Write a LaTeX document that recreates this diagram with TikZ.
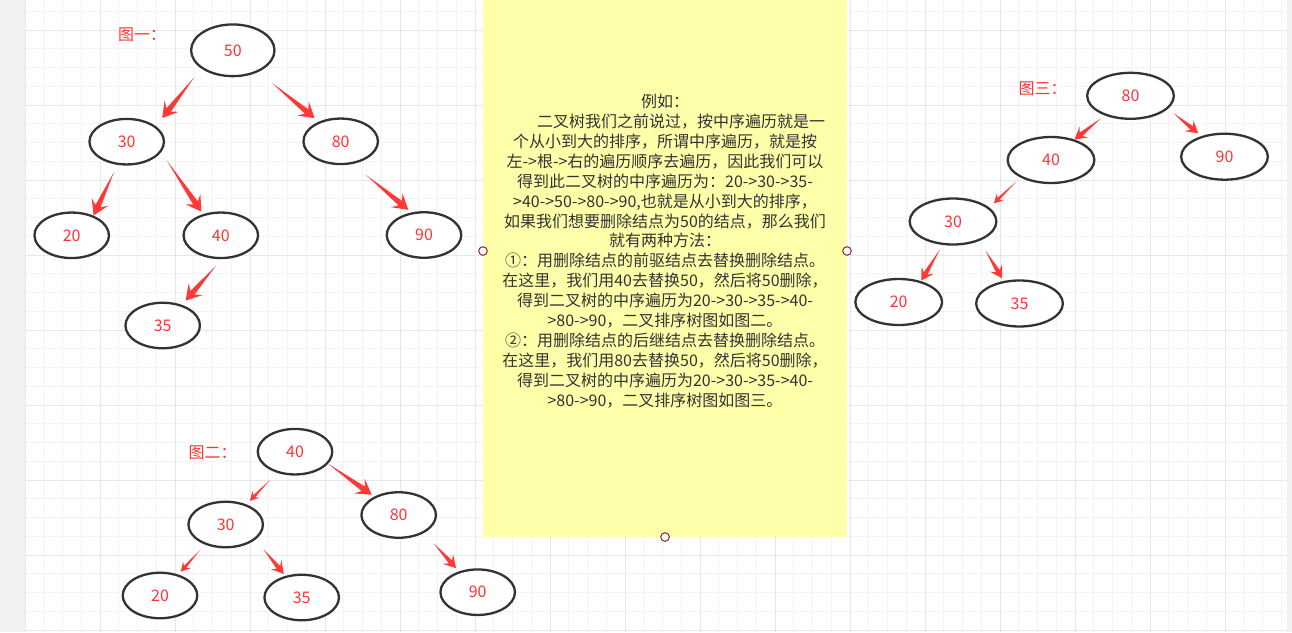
\documentclass[tikz,border=0pt]{standalone}
\usepackage{fontspec}
\setmainfont{Noto Sans CJK SC}
\usetikzlibrary{calc,shapes.geometric}
\definecolor{numred}{RGB}{255,51,51}
\definecolor{arrred}{RGB}{255,56,56}
\definecolor{rim}{RGB}{51,51,51}
\definecolor{memofill}{RGB}{255,255,170}
\definecolor{memotext}{RGB}{51,51,51}
\definecolor{gridmin}{RGB}{243,243,243}
\definecolor{gridmaj}{RGB}{231,231,231}
\definecolor{page}{RGB}{241,241,241}
\definecolor{gripred}{RGB}{140,40,40}

\begin{document}
\begin{tikzpicture}[
  x=1pt,y=-1pt,
  val/.style={ellipse,draw=rim,line width=2.3pt,fill=white,inner sep=0pt,
    minimum width=74.5pt,minimum height=45.5pt,text=numred,font=\fontsize{16}{16}\selectfont},
  wide/.style={minimum width=86.7pt,minimum height=46pt},
  root/.style={minimum width=83.4pt,minimum height=51.7pt},
  ttl/.style={anchor=west,inner sep=0pt,text=numred,font=\fontsize{16}{16}\selectfont},
  memo/.style={fill=memofill,inner sep=0pt,outer sep=0pt,minimum width=364pt,minimum height=572pt,
    align=center,text=memotext,font=\fontsize{16}{19.9}\selectfont},
  knob/.style={circle,draw=gripred,fill=white,line width=1pt,inner sep=0pt,minimum size=8.6pt},
  hlen/.store in=\arrHl, hwid/.store in=\arrHw, swid/.store in=\arrSw,
  tailgap/.store in=\arrTg, tipgap/.store in=\arrPg,
  hbig/.style={hlen=15pt,hwid=9pt,swid=2.8pt},
  hmid/.style={hlen=12pt,hwid=7pt,swid=2.2pt},
  hsml/.style={hlen=9pt,hwid=5pt,swid=1.4pt},
  blk/.style={fill=arrred,hbig,tailgap=0pt,tipgap=0pt,to path={
    let \p1=(\tikztostart), \p2=(\tikztotarget),
        \n1={atan2(\y2-\y1,\x2-\x1)},
        \n2={veclen(\x2-\x1,\y2-\y1)-\arrPg},
        \n3={\n2-\arrHl}, \n4={\n2-0.7*\arrHl} in
    ($(\p1)+(\n1:\arrTg)$)
    -- ($(\p1)+(\n1:{\n4*1pt})+(\n1+90:\arrSw)$)
    -- ($(\p1)+(\n1:{\n3*1pt})+(\n1+90:\arrHw)$)
    -- ($(\p1)+(\n1:{\n2*1pt})$)
    -- ($(\p1)+(\n1:{\n3*1pt})+(\n1-90:\arrHw)$)
    -- ($(\p1)+(\n1:{\n4*1pt})+(\n1-90:\arrSw)$) -- cycle}}
]
\useasboundingbox (0,0) rectangle (1292,632);
\fill[page] (0,0) rectangle (1292,632);
\fill[white] (25,0) rectangle (1287,632);
\foreach \k in {0,...,67} \draw[gridmin,line width=1pt] ({25+18.75*\k},0) -- ({25+18.75*\k},632);
\foreach \k in {0,...,33} \draw[gridmin,line width=1pt] (25,{11.25+18.75*\k}) -- (1287,{11.25+18.75*\k});
\foreach \k in {0,...,16} \draw[gridmaj,line width=1pt] ({25+75*\k},0) -- ({25+75*\k},632);
\foreach \k in {0,...,8} \draw[gridmaj,line width=1pt] (25,{30+75*\k}) -- (1287,{30+75*\k});

\node[memo] (memo) at (665,251) {例如：\\
\hspace*{2em}二叉树我们之前说过，按中序遍历就是一\\
个从小到大的排序，所谓中序遍历，就是按\\
左->根->右的遍历顺序去遍历，因此我们可以\\
得到此二叉树的中序遍历为：20->30->35-\\
>40->50->80->90,也就是从小到大的排序，\\
如果我们想要删除结点为50的结点，那么我们\\
就有两种方法：\\
①：用删除结点的前驱结点去替换删除结点。\\
在这里，我们用40去替换50，然后将50删除，\\
得到二叉树的中序遍历为20->30->35->40-\\
>80->90，二叉排序树图如图二。\\
②：用删除结点的后继结点去替换删除结点。\\
在这里，我们用80去替换50，然后将50删除，\\
得到二叉树的中序遍历为20->30->35->40-\\
>80->90，二叉排序树图如图三。};
\node[knob] (k1) at (memo.west) {};
\node[knob] (k2) at (memo.east) {};
\node[knob] (k3) at (memo.south) {};

\node[ttl] (f1) at (118,35) {图一：};
\node[val,root] (a50) at (232.8,50.3) {50};
\node[val] (a30) at (126.7,141.7) {30};
\node[val] (a80) at (340.7,141.3) {80};
\node[val] (a20) at (71.7,235.3) {20};
\node[val] (a40) at (220.8,235.3) {40};
\node[val] (a90) at (424,235) {90};
\node[val] (a35) at (162.7,325.5) {35};
\path[blk,tailgap=11.2pt,tipgap=10.2pt] (a50.210) to (a30.28);
\path[blk,tailgap=17.6pt,tipgap=5.3pt] (a50.320) to (a80.138);
\path[blk,tailgap=7.7pt] (a30.248) to (a20.42);
\path[blk,tailgap=10.1pt,tipgap=2.9pt] (a30.343) to (a40.130);
\path[blk,tailgap=9.1pt,tipgap=5.6pt] (a40.272) to (a35.47);
\path[blk,tailgap=17.4pt,tipgap=4pt] (a80.298) to (a90.119);

\node[ttl] (f2) at (188.3,452.3) {图二：};
\node[val] (b40) at (295,451.7) {40};
\node[val] (b30) at (225.7,524.5) {30};
\node[val] (b80) at (398.7,515) {80};
\node[val] (b20) at (160,595.5) {20};
\node[val] (b35) at (301.7,597.5) {35};
\node[val] (b90) at (477.7,592.2) {90};
\path[blk,hsml,tailgap=10pt,tipgap=4.9pt] (b40.229) to (b30.44);
\path[blk,tipgap=3pt] (b40.340) to (b80.143);
\path[blk,hsml,tailgap=6.4pt,tipgap=3.8pt] (b30.224) to (b20.49);
\path[blk,hmid,tailgap=12.6pt,tipgap=2.5pt] (b30.333) to (b35.127);
\path[blk,hmid,tailgap=14pt,tipgap=4.3pt] (b80.325) to (b90.132);

\node[ttl] (f3) at (1018.3,88.3) {图三：};
\node[val,wide] (c80) at (1130.5,95.8) {80};
\node[val,wide] (c40) at (1051,160) {40};
\node[val,wide] (c90) at (1224.5,156.7) {90};
\node[val,wide] (c30) at (953,221.5) {30};
\node[val,wide] (c20) at (898.7,302) {20};
\node[val,wide] (c35) at (1019.5,303.5) {35};
\path[blk,hmid,tailgap=4.6pt] (c80.217) to (c40.41);
\path[blk,hmid,tailgap=7pt,tipgap=4.2pt] (c80.341) to (c90.138);
\path[blk,hsml,tailgap=6pt,tipgap=6.2pt] (c40.210) to (c30.21);
\path[blk,hmid,tailgap=5pt,tipgap=0.6pt] (c30.246) to (c20.43);
\path[blk,hmid,tailgap=11.5pt,tipgap=3pt] (c30.324) to (c35.125);
\end{tikzpicture}
\end{document}
